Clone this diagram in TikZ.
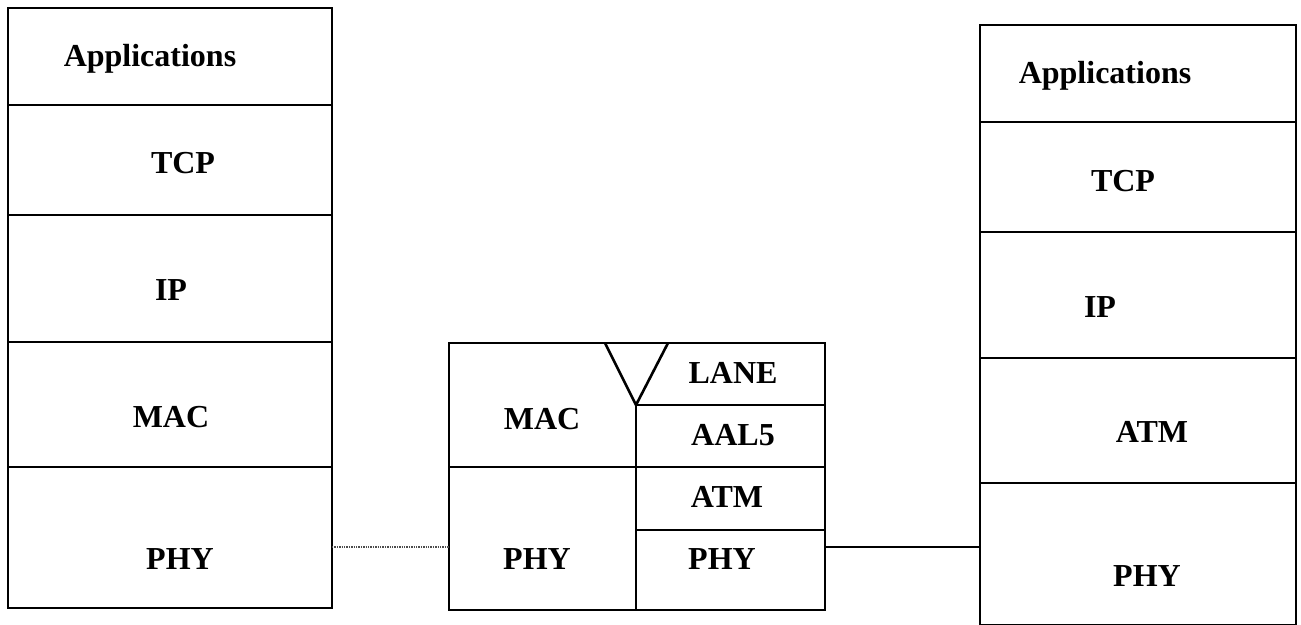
\documentclass[tikz,border=0pt]{standalone}
\usepackage{fontspec}
\setmainfont{Liberation Serif}
\begin{document}
\begin{tikzpicture}[x=1pt,y=-1pt,
  cell/.style={draw=black,line width=2.6pt,anchor=north west,inner sep=0pt,outer sep=0pt},
  lbl/.style={font=\fontsize{32}{38}\selectfont\bfseries,text height=21pt,text depth=0pt,inner sep=0pt},
  thinlink/.style={draw=black!70,line width=1.4pt,densely dotted},
  thicklink/.style={draw=black,line width=2.6pt},
  divider/.style={draw=black,line width=2.6pt}]
\useasboundingbox (0,0) rectangle (1301,624);
\clip (0,0) rectangle (1301,624);
% left stack
\node[cell,minimum width=324pt,minimum height=97pt] (lapp) at (8,8) {};
\node[cell,minimum width=324pt,minimum height=110pt] (ltcp) at (8,105) {};
\node[cell,minimum width=324pt,minimum height=127pt] (lip) at (8,215) {};
\node[cell,minimum width=324pt,minimum height=125pt] (lmac) at (8,342) {};
\node[cell,minimum width=324pt,minimum height=141pt] (lphy) at (8,467) {};
\node[lbl] (tlapp) at (150,56) {Applications};
\node[lbl] (tltcp) at (183,163) {TCP};
\node[lbl] (tlip) at (171,290) {IP};
\node[lbl] (tlmac) at (171,417) {MAC};
\node[lbl] (tlphy) at (180,559) {PHY};
% middle stack
\node[cell,minimum width=376pt,minimum height=267pt] (mid) at (449,343) {};
\coordinate (tri1) at (605,343);
\coordinate (tri2) at (668,343);
\coordinate (trib) at (636,405);
\draw[divider] (mid.west |- 0,467) -- (mid.east |- 0,467);
\draw[divider] (trib) -- (trib |- mid.south);
\draw[divider,line join=miter] (tri1) -- (trib) -- (tri2);
\draw[divider] (trib) -- (mid.east |- trib);
\draw[divider] (trib |- 0,530) -- (mid.east |- 0,530);
\node[lbl] (tmmac) at (542,419) {MAC};
\node[lbl] (tmphy) at (537,559) {PHY};
\node[lbl] (tlane) at (733,373) {LANE};
\node[lbl] (taal) at (733,435) {AAL5};
\node[lbl] (tmatm) at (727,497) {ATM};
\node[lbl] (tmphy2) at (722,559) {PHY};
% right stack
\node[cell,minimum width=316pt,minimum height=97pt] (rapp) at (980,25) {};
\node[cell,minimum width=316pt,minimum height=110pt] (rtcp) at (980,122) {};
\node[cell,minimum width=316pt,minimum height=126pt] (rip) at (980,232) {};
\node[cell,minimum width=316pt,minimum height=125pt] (ratm) at (980,358) {};
\node[cell,minimum width=316pt,minimum height=142pt] (rphy) at (980,483) {};
\node[lbl] (trapp) at (1105,73) {Applications};
\node[lbl] (trtcp) at (1123,181) {TCP};
\node[lbl] (trip) at (1100,307) {IP};
\node[lbl] (tratm) at (1152,432) {ATM};
\node[lbl] (trphy) at (1147,576) {PHY};
% connectors
\coordinate (lvl) at (0,547);
\draw[thinlink] (lphy.east |- lvl) -- (mid.west |- lvl);
\draw[thicklink] (mid.east |- lvl) -- (rphy.west |- lvl);
\end{tikzpicture}
\end{document}
